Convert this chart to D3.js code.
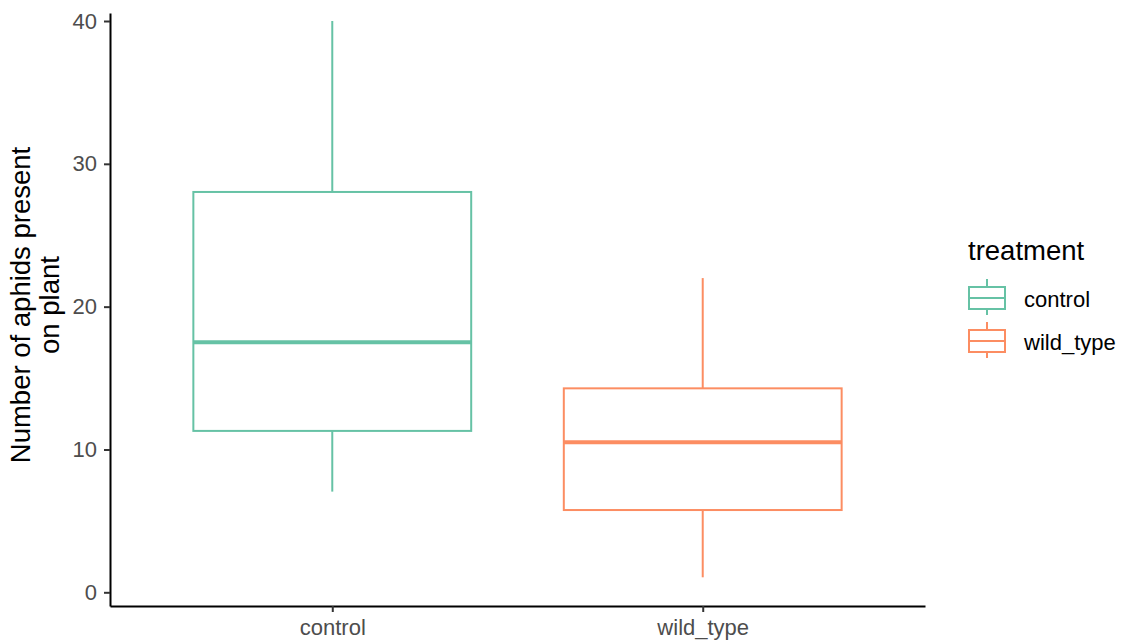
<!DOCTYPE html>
<html>
<head>
<meta charset="utf-8">
<script src="https://cdn.jsdelivr.net/npm/d3@7"></script>
<style>
  html, body { margin: 0; padding: 0; background: #fff; }
  svg { display: block; font-family: "Liberation Sans", Arial, Helvetica, sans-serif; }
</style>
</head>
<body>
<svg id="chart" width="1122" height="644"></svg>
<script>
// ---- data ----
const categories = ["control", "wild_type"];
const whiskerLow  = [7.05, 1.05];
const q1          = [11.3, 5.76];
const medians     = [17.5, 10.5];
const q3          = [28.03, 14.28];
const whiskerHigh = [40, 22];
const colors      = ["#66c2a5", "#fc8d62"];
const yTicks      = [0, 10, 20, 30, 40];
const yTitleLines = ["Number of aphids present", "on plant"];
const legendTitle = "treatment";

const svg = d3.select("#chart");

const panel = { left: 110, right: 925, top: 13, bottom: 606 };

const x = d3.scalePoint()
  .domain(categories)
  .range([panel.left, panel.right])
  .padding(0.6);

const y = d3.scaleLinear()
  .domain([-0.959, 40.56])
  .range([panel.bottom, panel.top]);

const boxW = x.step() * 0.75;

const data = categories.map((c, i) => ({
  cat: c, lo: whiskerLow[i], q1: q1[i], med: medians[i], q3: q3[i], hi: whiskerHigh[i], color: colors[i]
}));

// ---- boxes ----
const g = svg.append("g");
const box = g.selectAll("g.box").data(data).enter().append("g").attr("class", "box");

box.append("line")
  .attr("x1", d => x(d.cat)).attr("x2", d => x(d.cat))
  .attr("y1", d => y(d.q3)).attr("y2", d => y(d.hi))
  .attr("stroke", d => d.color).attr("stroke-width", 2);
box.append("line")
  .attr("x1", d => x(d.cat)).attr("x2", d => x(d.cat))
  .attr("y1", d => y(d.q1)).attr("y2", d => y(d.lo))
  .attr("stroke", d => d.color).attr("stroke-width", 2);
box.append("rect")
  .attr("x", d => x(d.cat) - boxW / 2)
  .attr("width", boxW)
  .attr("y", d => y(d.q3))
  .attr("height", d => y(d.q1) - y(d.q3))
  .attr("fill", "#fff")
  .attr("stroke", d => d.color).attr("stroke-width", 2);
box.append("line")
  .attr("x1", d => x(d.cat) - boxW / 2).attr("x2", d => x(d.cat) + boxW / 2)
  .attr("y1", d => y(d.med)).attr("y2", d => y(d.med))
  .attr("stroke", d => d.color).attr("stroke-width", 4);

// ---- axes ----
const yAxis = svg.append("g")
  .attr("transform", `translate(${panel.left},0)`)
  .call(d3.axisLeft(y).tickValues(yTicks).tickSize(6).tickSizeOuter(0).tickPadding(7));
const xAxis = svg.append("g")
  .attr("transform", `translate(0,${panel.bottom})`)
  .call(d3.axisBottom(x).tickSize(6).tickSizeOuter(0).tickPadding(6));

[yAxis, xAxis].forEach(a => {
  a.select(".domain").attr("stroke", "#000").attr("stroke-width", 2);
  a.selectAll(".tick line").attr("stroke", "#333").attr("stroke-width", 2);
  a.selectAll(".tick text")
    .attr("fill", "#4d4d4d")
    .style("font-size", "22px")
    .style("font-family", "'Liberation Sans', Arial, sans-serif");
});
xAxis.selectAll(".tick text").attr("dy", null).attr("y", 29);

// ---- y title ----
const yTitle = svg.append("text")
  .attr("transform", `translate(30, 305) rotate(-90)`)
  .attr("text-anchor", "middle")
  .attr("fill", "#000")
  .style("font-size", "27.5px");
yTitle.selectAll("tspan").data(yTitleLines).enter().append("tspan")
  .attr("x", 0)
  .attr("dy", (d, i) => i === 0 ? 0 : 28.5)
  .text(d => d);

// ---- legend ----
const leg = svg.append("g").attr("transform", "translate(968,0)");
leg.append("text")
  .attr("x", 0).attr("y", 260)
  .attr("fill", "#000")
  .style("font-size", "27.5px")
  .text(legendTitle);

const keyY = d3.scalePoint().domain(categories).range([299, 342]);
const key = leg.selectAll("g.key").data(data).enter().append("g")
  .attr("class", "key")
  .attr("transform", d => `translate(0,${keyY(d.cat)})`);
key.append("line").attr("x1", 19).attr("x2", 19).attr("y1", -20).attr("y2", 16)
  .attr("stroke", d => d.color).attr("stroke-width", 2);
key.append("rect").attr("x", 1).attr("y", -12).attr("width", 36).attr("height", 22)
  .attr("fill", "#fff").attr("stroke", d => d.color).attr("stroke-width", 2);
key.append("line").attr("x1", 1).attr("x2", 37).attr("y1", -1).attr("y2", -1)
  .attr("stroke", d => d.color).attr("stroke-width", 2);
key.append("text")
  .attr("x", 56).attr("y", 0)
  .attr("dominant-baseline", "central")
  .attr("fill", "#000")
  .style("font-size", "22px")
  .text(d => d.cat);
</script>
</body>
</html>
